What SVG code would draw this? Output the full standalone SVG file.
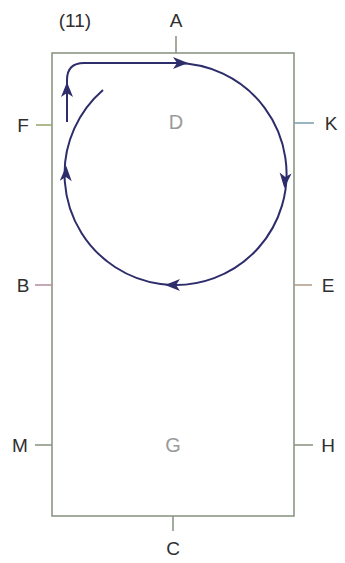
<svg xmlns="http://www.w3.org/2000/svg" width="345" height="563" viewBox="0 0 345 563">
<style>
.lbl{font-family:"Liberation Sans",Arial,sans-serif;font-size:19px;fill:#2f2f2f;text-anchor:middle;dominant-baseline:central}
.zone{font-family:"Liberation Sans",Arial,sans-serif;font-size:20px;fill:#9a9a9a;text-anchor:middle;dominant-baseline:central}
.box{fill:none;stroke:#8c9784;stroke-width:1.6}
.tick{stroke:#8c9784;stroke-width:1.6}
.flow{fill:none;stroke:#2e2d6b;stroke-width:2}
.ah{fill:#2e2d6b}
</style>
<defs>
<path id="ah" d="M8 0 L-7 -6 L-3 0 L-7 6 Z"/>
</defs>
<rect width="345" height="563" fill="#ffffff"/>
<g id="room">
<rect class="box" x="52" y="53" width="242" height="463"/>
</g>
<g id="title"><text class="lbl" x="75" y="20">(11)</text></g>
<g id="A"><line class="tick" x1="176" y1="36" x2="176" y2="53"/><text class="lbl" x="176" y="20">A</text></g>
<g id="C"><line class="tick" x1="173" y1="516" x2="173" y2="531"/><text class="lbl" x="173" y="548">C</text></g>
<g id="F"><line class="tick" x1="36" y1="125" x2="52" y2="125" style="stroke:#9aa870"/><text class="lbl" x="23" y="125">F</text></g>
<g id="K"><line class="tick" x1="294" y1="123" x2="314" y2="123" style="stroke:#7fa6b4"/><text class="lbl" x="331" y="123">K</text></g>
<g id="B"><line class="tick" x1="35" y1="285" x2="52" y2="285" style="stroke:#b894a4"/><text class="lbl" x="23" y="285">B</text></g>
<g id="E"><line class="tick" x1="294" y1="285" x2="312" y2="285" style="stroke:#b0a090"/><text class="lbl" x="328" y="285">E</text></g>
<g id="M"><line class="tick" x1="35" y1="445" x2="52" y2="445"/><text class="lbl" x="20" y="445">M</text></g>
<g id="H"><line class="tick" x1="294" y1="445" x2="313" y2="445"/><text class="lbl" x="328" y="445">H</text></g>
<g id="D"><text class="zone" x="176" y="122">D</text></g>
<g id="G"><text class="zone" x="173" y="445">G</text></g>
<g id="connectors">
<path class="flow" d="M67 122 V80 Q67 63 84 63 H176 A111 111 0 1 1 103 90"/>
<use href="#ah" class="ah" transform="translate(180,63)"/>
<use href="#ah" class="ah" transform="translate(285,180) rotate(95)"/>
<use href="#ah" class="ah" transform="translate(173,285) rotate(180)"/>
<use href="#ah" class="ah" transform="translate(66,174) rotate(-88)"/>
<use href="#ah" class="ah" transform="translate(67,90) rotate(-90)"/>
</g>
</svg>
